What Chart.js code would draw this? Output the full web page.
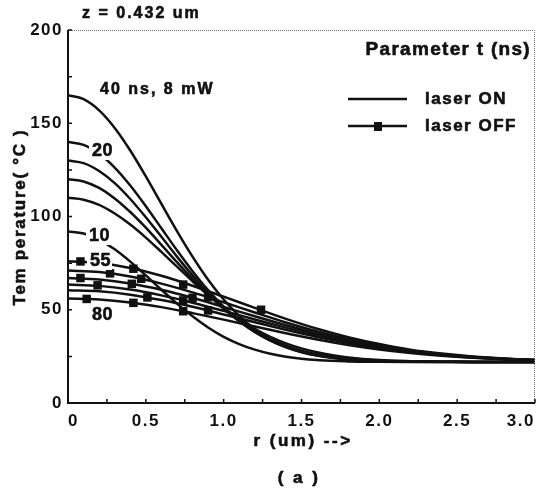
<!DOCTYPE html>
<html>
<head>
<meta charset="utf-8">
<script src="https://cdn.jsdelivr.net/npm/chart.js@4.4.1/dist/chart.umd.min.js"></script>
<style>
  body { margin: 0; background: #fff; }
  canvas { display: block; }
</style>
</head>
<body>
<canvas id="tempChart" width="541" height="491"></canvas>
<script>
// radial positions (um)
const rOn = [0, 0.1, 0.2, 0.3, 0.4, 0.5, 0.6, 0.7, 0.8, 0.9, 1.0, 1.1, 1.2, 1.3, 1.4, 1.5, 1.6, 1.7, 1.8, 2.0, 2.2, 2.4, 2.6, 2.8, 3.0];
const rOff = [0, 0.2, 0.4, 0.6, 0.8, 1.0, 1.2, 1.4, 1.6, 1.8, 2.0, 2.2, 2.4, 2.6, 2.8, 3.0];

// laser ON curves (deg C)
const on40 = [165, 162.9, 156.9, 147.5, 135.4, 121.5, 106.8, 92.2, 78.5, 66.1, 55.5, 46.7, 39.7, 34.3, 30.3, 27.5, 25.5, 24.2, 23.3, 22.4, 22.2, 22.1, 22, 22, 22];
const on20 = [140, 138.4, 133.6, 126.2, 116.6, 105.5, 93.7, 81.9, 70.7, 60.5, 51.6, 44.1, 38.1, 33.4, 29.8, 27.2, 25.4, 24.2, 23.3, 22.5, 22.1, 22, 22, 22, 22];
const onC = [130, 128.6, 124.4, 117.9, 109.4, 99.6, 89.1, 78.5, 68.4, 59.0, 50.8, 43.8, 38.1, 33.6, 30.1, 27.5, 25.7, 24.4, 23.5, 22.5, 22.2, 22.1, 22, 22, 22];
const onD = [120, 118.8, 115.3, 109.7, 102.4, 94.0, 84.8, 75.5, 66.5, 58.1, 50.5, 44.0, 38.6, 34.2, 30.7, 28.1, 26.2, 24.8, 23.8, 22.7, 22.2, 22.1, 22, 22, 22];
const onE = [110, 109.0, 106.2, 101.6, 95.7, 88.7, 81.0, 73.1, 65.3, 57.9, 51.1, 45.0, 39.8, 35.5, 32.0, 29.3, 27.2, 25.6, 24.4, 23.0, 22.4, 22.1, 22, 22, 22];
const on10 = [92, 90.9, 87.5, 82.4, 75.8, 68.4, 60.7, 53.3, 46.5, 40.5, 35.5, 31.6, 28.6, 26.4, 24.8, 23.7, 23.0, 22.6, 22.3, 22.1, 22, 22, 22, 22, 22];

// laser OFF curves (deg C)
const off55 = [76, 75.1, 72.4, 68.2, 62.9, 57.0, 51.0, 45.1, 39.8, 35.3, 31.6, 28.6, 26.5, 24.9, 23.8, 23.1];
const off60 = [71, 70.2, 67.8, 64.0, 59.3, 54.0, 48.5, 43.2, 38.4, 34.3, 30.9, 28.2, 26.2, 24.7, 23.7, 23.0];
const off65 = [67, 66.2, 64.1, 60.7, 56.4, 51.5, 46.5, 41.7, 37.3, 33.5, 30.3, 27.8, 26.0, 24.6, 23.7, 23.0];
const off70 = [63.5, 62.8, 60.8, 57.7, 53.8, 49.4, 44.8, 40.4, 36.3, 32.8, 29.9, 27.5, 25.8, 24.5, 23.6, 23.0];
const off75 = [60.5, 59.9, 58.1, 55.2, 51.6, 47.5, 43.3, 39.2, 35.4, 32.2, 29.4, 27.3, 25.6, 24.4, 23.5, 23.0];
const off80 = [56, 55.5, 53.9, 51.4, 48.2, 44.7, 41.0, 37.4, 34.0, 31.1, 28.7, 26.8, 25.3, 24.2, 23.4, 22.9];

// square markers on the OFF curves
const markR55 = [0.08, 0.42, 0.74, 1.24], markT55 = [75.9, 72, 63.5, 50];
const markR60 = [0.27, 0.47, 0.9], markT60 = [69.5, 66.6, 56.7];
const markR65 = [0.08, 0.41, 0.8], markT65 = [67, 63.9, 56.4];
const markR70 = [0.19, 0.74], markT70 = [63.1, 55];
const markR75 = [0.51, 0.9], markT75 = [56.6, 49.6];
const markR80 = [0.12, 0.42, 0.74], markT80 = [55.8, 53.7, 49.2];

const xTicks = [0, 0.5, 1.0, 1.5, 2.0, 2.5, 3.0];
const yTicks = [0, 50, 100, 150, 200];

const INK = '#111';
const FONT = '"Liberation Sans", Arial, sans-serif';

function pts(xs, ys) {
    return xs.map((x, i) => ({ x: x, y: ys[i] }));
}

function curve(xs, ys) {
    return {
        data: pts(xs, ys),
        showLine: true,
        borderColor: INK,
        borderWidth: 2.5,
        pointRadius: 0,
        cubicInterpolationMode: 'monotone'
    };
}

function marks(xs, ys) {
    return {
        data: pts(xs, ys),
        showLine: false,
        pointStyle: 'rect',
        pointRadius: 6,
        backgroundColor: INK,
        borderColor: INK,
        borderWidth: 0
    };
}

// bold text, slightly stroked to get the heavy print look
function label(ctx, text, x, y, size, align, spacing, knockout) {
    ctx.font = 'bold ' + size + 'px ' + FONT;
    ctx.letterSpacing = (spacing || 0) + 'px';
    ctx.textAlign = align || 'left';
    ctx.textBaseline = 'middle';
    if (knockout) {
        const w = ctx.measureText(text).width;
        const x0 = align === 'center' ? x - w / 2 : (align === 'right' ? x - w : x);
        ctx.fillStyle = '#fff';
        ctx.fillRect(x0 - 3, y - size / 2, w + 4, size);
    }
    ctx.fillStyle = INK;
    ctx.strokeStyle = INK;
    ctx.lineWidth = 0.6;
    ctx.fillText(text, x, y);
    ctx.strokeText(text, x, y);
}

const decor = {
    id: 'decor',
    beforeDraw(chart) {
        const ctx = chart.ctx;
        ctx.save();
        ctx.fillStyle = '#fff';
        ctx.fillRect(0, 0, chart.width, chart.height);
        ctx.restore();
        ctx.letterSpacing = '1.5px';
    },
    afterDraw(chart) {
        const ctx = chart.ctx;
        const a = chart.chartArea;
        const xs = chart.scales.x, ys = chart.scales.y;
        ctx.save();

        // dotted top / right frame
        ctx.strokeStyle = '#777';
        ctx.lineWidth = 1;
        ctx.setLineDash([1, 1]);
        ctx.beginPath();
        ctx.moveTo(a.left, a.top + 0.5);
        ctx.lineTo(a.right - 0.5, a.top + 0.5);
        ctx.lineTo(a.right - 0.5, a.bottom);
        ctx.stroke();
        ctx.setLineDash([]);

        // solid left / bottom axes
        ctx.strokeStyle = INK;
        ctx.lineWidth = 2;
        ctx.beginPath();
        ctx.moveTo(a.left, a.top);
        ctx.lineTo(a.left, a.bottom);
        ctx.lineTo(a.right, a.bottom);
        ctx.stroke();

        // inward ticks
        ctx.lineWidth = 1.5;
        ctx.beginPath();
        for (let v = 0; v <= 3.0001; v += 0.25) {
            const px = xs.getPixelForValue(v);
            ctx.moveTo(px, a.bottom);
            ctx.lineTo(px, a.bottom - 4);
        }
        for (let v = 0; v <= 200; v += 25) {
            const py = ys.getPixelForValue(v);
            ctx.moveTo(a.left, py);
            ctx.lineTo(a.left + 4, py);
        }
        ctx.stroke();

        // titles and curve labels
        label(ctx, 'z = 0.432 um', 82, 14, 16, 'left', 2);
        label(ctx, 'Parameter t (ns)', 531, 50, 19, 'right', 1.3);
        label(ctx, '40 ns, 8 mW', 100, 90, 16, 'left', 2);
        label(ctx, '20', 92, 151, 18, 'left', 0.5, true);
        label(ctx, '10', 89, 236, 18, 'left', 0.5, true);
        label(ctx, '55', 90, 261, 18, 'left', 0.5, true);
        label(ctx, '80', 92, 315, 18, 'left', 0.5);
        label(ctx, 'r (um) -->', 303, 441, 17, 'center', 2.5);
        label(ctx, '( a )', 299, 478, 17, 'center', 2.5);

        ctx.save();
        ctx.translate(20, 217);
        ctx.rotate(-Math.PI / 2);
        label(ctx, 'Tem perature( °C )', 0, 0, 17, 'center', 1.7);
        ctx.restore();

        // legend
        ctx.strokeStyle = INK;
        ctx.lineWidth = 2.5;
        ctx.beginPath();
        ctx.moveTo(348, 99);
        ctx.lineTo(407, 99);
        ctx.moveTo(348, 126);
        ctx.lineTo(407, 126);
        ctx.stroke();
        ctx.fillStyle = INK;
        ctx.fillRect(374, 122, 8, 9);
        label(ctx, 'laser ON', 425, 99, 17, 'left', 1.5);
        label(ctx, 'laser OFF', 425, 126, 17, 'left', 1.5);

        ctx.restore();
    }
};

new Chart(document.getElementById('tempChart'), {
    type: 'scatter',
    data: {
        datasets: [
            curve(rOn, on40), curve(rOn, on20), curve(rOn, onC),
            curve(rOn, onD), curve(rOn, onE), curve(rOn, on10),
            curve(rOff, off55), curve(rOff, off60), curve(rOff, off65),
            curve(rOff, off70), curve(rOff, off75), curve(rOff, off80),
            marks(markR55, markT55), marks(markR60, markT60), marks(markR65, markT65),
            marks(markR70, markT70), marks(markR75, markT75), marks(markR80, markT80)
        ]
    },
    options: {
        responsive: false,
        animation: false,
        layout: { padding: { top: 30, right: 3, left: 0, bottom: 0 } },
        plugins: {
            legend: { display: false },
            tooltip: { enabled: false }
        },
        scales: {
            x: {
                type: 'linear',
                min: 0,
                max: 3.0,
                border: { display: false },
                grid: { display: false, drawTicks: false },
                afterBuildTicks: s => { s.ticks = xTicks.map(v => ({ value: v })); },
                ticks: {
                    align: 'inner',
                    padding: 8,
                    color: INK,
                    font: { family: FONT, size: 17, weight: 'bold' },
                    callback: v => v === 0 ? '0' : v.toFixed(1)
                },
                afterFit: s => { s.height = 88; s.paddingLeft = 0; s.paddingRight = 0; }
            },
            y: {
                min: 0,
                max: 200,
                border: { display: false },
                grid: { display: false, drawTicks: false },
                afterBuildTicks: s => { s.ticks = yTicks.map(v => ({ value: v })); },
                ticks: {
                    padding: 5,
                    color: INK,
                    font: { family: FONT, size: 17, weight: 'bold' }
                },
                afterFit: s => { s.width = 68; s.paddingTop = 0; s.paddingBottom = 0; }
            }
        }
    },
    plugins: [decor]
});
</script>
</body>
</html>
